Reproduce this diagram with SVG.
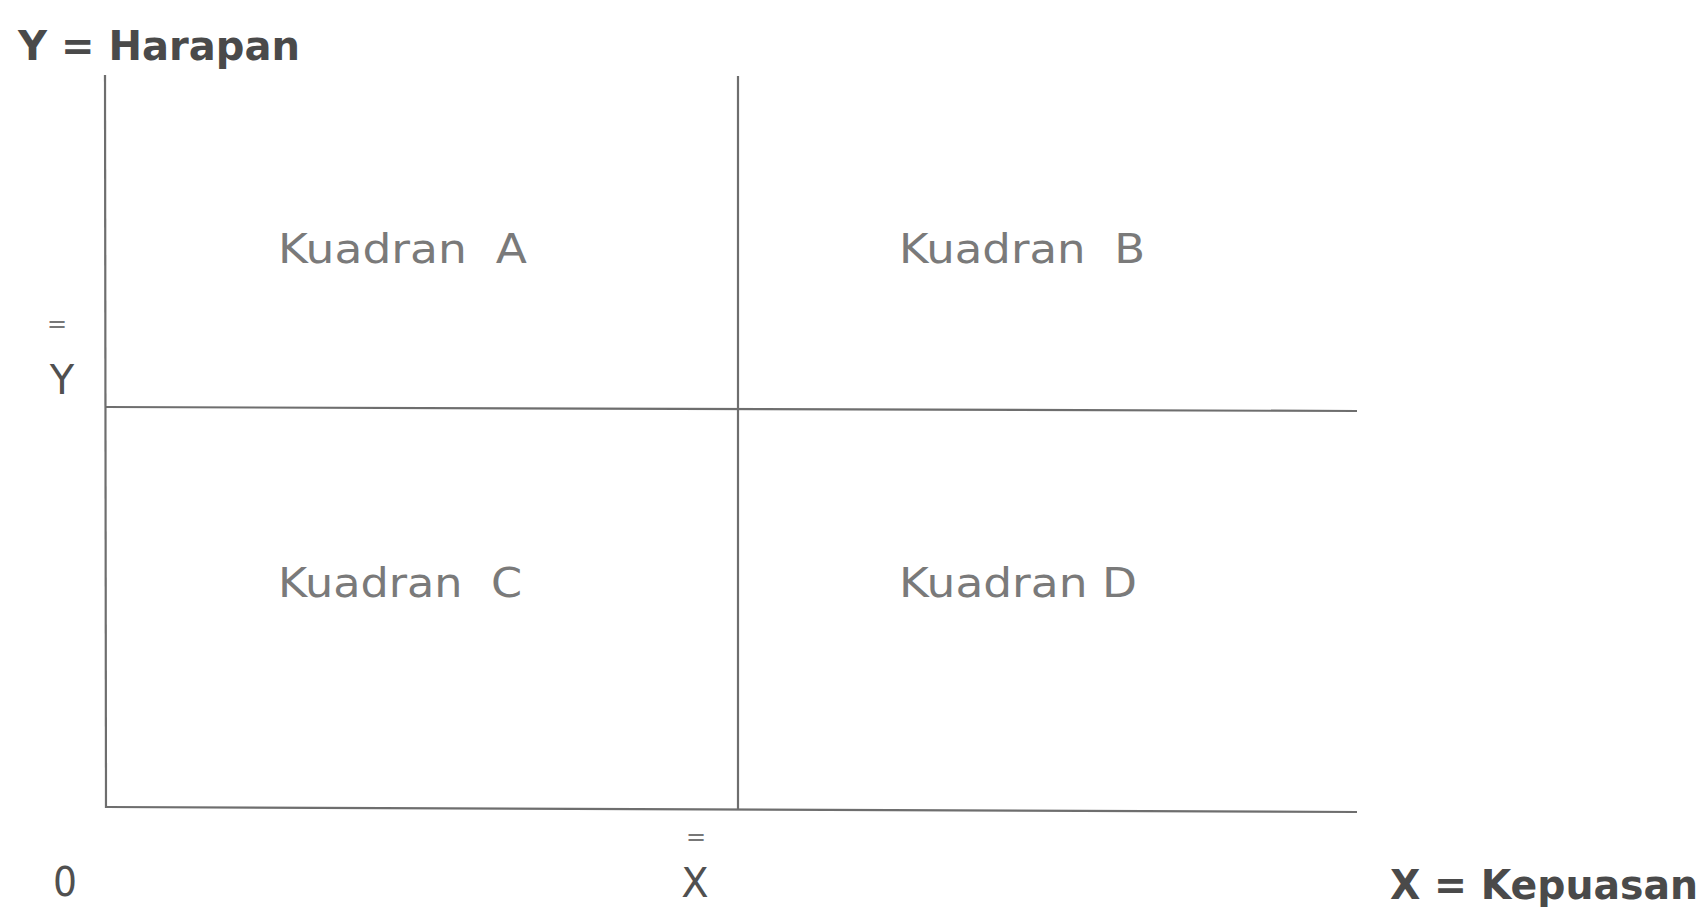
<svg xmlns="http://www.w3.org/2000/svg" width="1702" height="907" viewBox="0 0 1702 907">
<style>
.ax{stroke:#6e6e6e;stroke-width:2.2;fill:none}
.t{font-family:"DejaVu Sans",Verdana,sans-serif;font-size:40px}
.b{font-weight:bold;fill:#4a4a4a}
.q{fill:#7a7a7a}
.l{fill:#505050}
.eq{font-family:"DejaVu Sans",Verdana,sans-serif;font-size:24px;fill:#777}
</style>
<rect width="1702" height="907" fill="#ffffff"/>
<g id="connectors">
<line class="ax" x1="105" y1="75" x2="106" y2="808"/>
<line class="ax" x1="738" y1="76" x2="738" y2="810"/>
<line class="ax" x1="105" y1="407" x2="1357" y2="411"/>
<line class="ax" x1="106" y1="807" x2="1357" y2="812"/>
</g>
<g id="title-y"><text class="t b" x="18" y="60" textLength="282" lengthAdjust="spacingAndGlyphs">Y = Harapan</text></g>
<g id="title-x"><text class="t b" x="1390" y="899" textLength="308" lengthAdjust="spacingAndGlyphs">X = Kepuasan</text></g>
<g id="kuadran-a"><text class="t q" x="278" y="263" textLength="249" lengthAdjust="spacingAndGlyphs" xml:space="preserve">Kuadran  A</text></g>
<g id="kuadran-b"><text class="t q" x="899" y="263" textLength="246" lengthAdjust="spacingAndGlyphs" xml:space="preserve">Kuadran  B</text></g>
<g id="kuadran-c"><text class="t q" x="278" y="597" textLength="244" lengthAdjust="spacingAndGlyphs" xml:space="preserve">Kuadran  C</text></g>
<g id="kuadran-d"><text class="t q" x="899" y="597" textLength="238" lengthAdjust="spacingAndGlyphs">Kuadran D</text></g>
<g id="ybar">
<text class="eq" x="57" y="332" text-anchor="middle">=</text>
<text class="t l" x="62" y="394" text-anchor="middle">Y</text>
</g>
<g id="xbar">
<text class="eq" x="696" y="845" text-anchor="middle">=</text>
<text class="t l" x="695" y="897" text-anchor="middle">X</text>
</g>
<g id="origin"><text class="t l" x="65" y="896" text-anchor="middle" textLength="24" lengthAdjust="spacingAndGlyphs">0</text></g>
</svg>
